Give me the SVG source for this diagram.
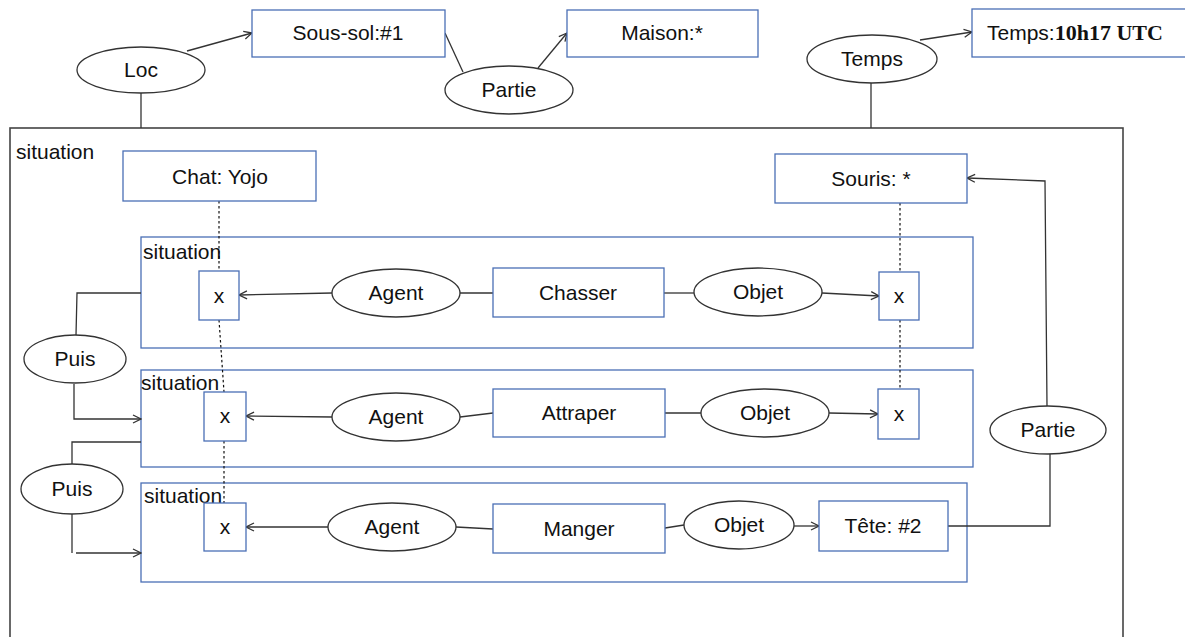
<svg xmlns="http://www.w3.org/2000/svg" width="1185" height="637" viewBox="0 0 1185 637">
<defs>
<marker id="arr" markerWidth="10" markerHeight="10" refX="9" refY="5" orient="auto" markerUnits="userSpaceOnUse">
<path d="M1,1 L9,5 L1,9" fill="none" stroke="#333" stroke-width="1.3"/>
</marker>
<style>
.box{fill:#fff;stroke:#4a6fb5;stroke-width:1.3}
.sit{fill:none;stroke:#4a6fb5;stroke-width:1.3}
.ell{fill:#fff;stroke:#333;stroke-width:1.3}
.ln{fill:none;stroke:#333;stroke-width:1.3}
.dot{fill:none;stroke:#111;stroke-width:1.2;stroke-dasharray:2.5,2.5}
text{font-family:"Liberation Sans",Arial,sans-serif;font-size:21px;fill:#111}
.c{text-anchor:middle}
</style>
</defs>
<rect width="1185" height="637" fill="#fff"/>
<g id="outer-situation">
<rect x="10" y="128" width="1113" height="520" fill="none" stroke="#444" stroke-width="1.6"/>
<text x="16" y="159">situation</text>
</g>
<g id="sit1"><rect class="sit" x="141" y="237" width="832" height="111"/><text x="143" y="259">situation</text></g>
<g id="sit2"><rect class="sit" x="141" y="370" width="832" height="97"/><text x="141" y="390">situation</text></g>
<g id="sit3"><rect class="sit" x="141" y="483" width="826" height="99"/><text x="144" y="503">situation</text></g>

<g id="connectors">
<line class="ln" x1="187" y1="51" x2="252" y2="33" marker-end="url(#arr)"/>
<line class="ln" x1="141" y1="93" x2="141" y2="128"/>
<line class="ln" x1="445" y1="33" x2="463" y2="72"/>
<line class="ln" x1="538" y1="68" x2="567" y2="33" marker-end="url(#arr)"/>
<line class="ln" x1="920" y1="40" x2="972" y2="32" marker-end="url(#arr)"/>
<line class="ln" x1="871" y1="83" x2="871" y2="128"/>
<line class="dot" x1="219" y1="201" x2="219" y2="271"/>
<line class="dot" x1="219" y1="320" x2="224" y2="392"/>
<line class="dot" x1="224" y1="441" x2="224" y2="503"/>
<line class="dot" x1="900" y1="203" x2="900" y2="272"/>
<line class="dot" x1="900" y1="320" x2="900" y2="389"/>
<line class="ln" x1="332" y1="293" x2="239" y2="295" marker-end="url(#arr)"/>
<line class="ln" x1="460" y1="293" x2="493" y2="293"/>
<line class="ln" x1="664" y1="293" x2="694" y2="293"/>
<line class="ln" x1="822" y1="293" x2="879" y2="296" marker-end="url(#arr)"/>
<line class="ln" x1="332" y1="417" x2="246" y2="416" marker-end="url(#arr)"/>
<line class="ln" x1="460" y1="417" x2="493" y2="413"/>
<line class="ln" x1="665" y1="413" x2="701" y2="413"/>
<line class="ln" x1="829" y1="413" x2="878" y2="414" marker-end="url(#arr)"/>
<line class="ln" x1="328" y1="527" x2="246" y2="527" marker-end="url(#arr)"/>
<line class="ln" x1="456" y1="527" x2="493" y2="529"/>
<line class="ln" x1="665" y1="528" x2="684" y2="525"/>
<line class="ln" x1="794" y1="526" x2="819" y2="526" marker-end="url(#arr)"/>
<polyline class="ln" points="141,293 77,293 76,335"/>
<polyline class="ln" points="74,384 74,419 141,419" marker-end="url(#arr)"/>
<polyline class="ln" points="141,442 72,442 72,464"/>
<line class="ln" x1="72" y1="513" x2="72" y2="553"/>
<line class="ln" x1="76" y1="553" x2="141" y2="553" marker-end="url(#arr)"/>
<polyline class="ln" points="948,526 1050,526 1050,454"/>
<polyline class="ln" points="1047,406 1045,181 967,178" marker-end="url(#arr)"/>
</g>

<g id="sous-sol"><rect class="box" x="252" y="10" width="193" height="47"/><text class="c" x="348" y="40">Sous-sol:#1</text></g>
<g id="maison"><rect class="box" x="567" y="10" width="191" height="47"/><text class="c" x="662" y="40">Maison:*</text></g>
<g id="temps-val"><rect class="box" x="972" y="9" width="215" height="48"/><text x="987" y="40">Temps:<tspan font-family="'Liberation Serif','Times New Roman',serif" font-weight="bold" font-size="22">10h17 UTC</tspan></text></g>
<g id="loc"><ellipse class="ell" cx="141" cy="70" rx="64" ry="23"/><text class="c" x="141" y="77">Loc</text></g>
<g id="partie-top"><ellipse class="ell" cx="509" cy="90" rx="64" ry="24"/><text class="c" x="509" y="97">Partie</text></g>
<g id="temps-rel"><ellipse class="ell" cx="872" cy="59" rx="65" ry="24"/><text class="c" x="872" y="66">Temps</text></g>

<g id="chat"><rect class="box" x="123" y="151" width="193" height="50"/><text class="c" x="220" y="184">Chat: Yojo</text></g>
<g id="souris"><rect class="box" x="775" y="154" width="192" height="49"/><text class="c" x="871" y="186">Souris: *</text></g>

<g id="x1"><rect class="box" x="199" y="271" width="40" height="49"/><text class="c" x="219" y="303">x</text></g>
<g id="agent1"><ellipse class="ell" cx="396" cy="293" rx="64" ry="24"/><text class="c" x="396" y="300">Agent</text></g>
<g id="chasser"><rect class="box" x="493" y="268" width="171" height="49"/><text class="c" x="578" y="300">Chasser</text></g>
<g id="objet1"><ellipse class="ell" cx="758" cy="292" rx="64" ry="24"/><text class="c" x="758" y="299">Objet</text></g>
<g id="x1r"><rect class="box" x="879" y="272" width="40" height="48"/><text class="c" x="899" y="303">x</text></g>

<g id="x2"><rect class="box" x="204" y="392" width="42" height="49"/><text class="c" x="225" y="423">x</text></g>
<g id="agent2"><ellipse class="ell" cx="396" cy="417" rx="64" ry="24"/><text class="c" x="396" y="424">Agent</text></g>
<g id="attraper"><rect class="box" x="493" y="389" width="172" height="48"/><text class="c" x="579" y="420">Attraper</text></g>
<g id="objet2"><ellipse class="ell" cx="765" cy="413" rx="64" ry="24"/><text class="c" x="765" y="420">Objet</text></g>
<g id="x2r"><rect class="box" x="878" y="389" width="41" height="50"/><text class="c" x="899" y="421">x</text></g>

<g id="x3"><rect class="box" x="204" y="503" width="42" height="48"/><text class="c" x="225" y="534">x</text></g>
<g id="agent3"><ellipse class="ell" cx="392" cy="527" rx="64" ry="24"/><text class="c" x="392" y="534">Agent</text></g>
<g id="manger"><rect class="box" x="493" y="504" width="172" height="49"/><text class="c" x="579" y="536">Manger</text></g>
<g id="objet3"><ellipse class="ell" cx="739" cy="525" rx="55" ry="24"/><text class="c" x="739" y="532">Objet</text></g>
<g id="tete"><rect class="box" x="819" y="501" width="129" height="50"/><text class="c" x="883" y="533">Tête: #2</text></g>

<g id="puis1"><ellipse class="ell" cx="75" cy="359" rx="51" ry="24"/><text class="c" x="75" y="366">Puis</text></g>
<g id="puis2"><ellipse class="ell" cx="72" cy="489" rx="51" ry="25"/><text class="c" x="72" y="496">Puis</text></g>
<g id="partie-right"><ellipse class="ell" cx="1048" cy="430" rx="58" ry="24"/><text class="c" x="1048" y="437">Partie</text></g>
</svg>
